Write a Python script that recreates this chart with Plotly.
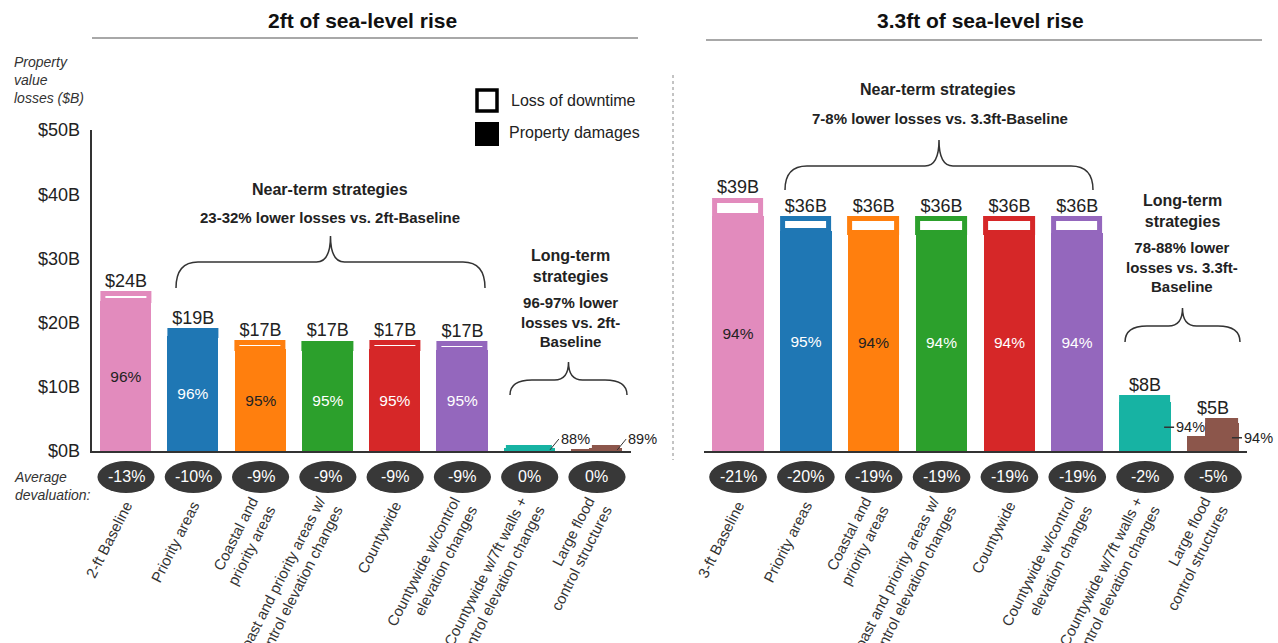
import plotly.graph_objects as go

# ---------------------------------------------------------------------------
# Data
# ---------------------------------------------------------------------------
categories_2ft = [
    "2-ft Baseline",
    "Priority areas",
    "Coastal and<br>priority areas",
    "Coast and priority areas w/<br>control elevation changes",
    "Countywide",
    "Countywide w/control<br>elevation changes",
    "Countywide w/7ft walls +<br>control elevation changes",
    "Large flood<br>control structures",
]
categories_33ft = ["3-ft Baseline"] + categories_2ft[1:]

# total property value losses ($B) per strategy
totals_2ft = [24.4, 18.7, 16.8, 16.7, 16.8, 16.6, 0.5, 0.5]
totals_33ft = [39.0, 36.1, 36.1, 36.1, 36.1, 36.1, 8.2, 4.6]

# share of the losses that are property damages (%); the rest is loss of downtime
damage_share_2ft = [96, 96, 95, 95, 95, 95, 88, 89]
damage_share_33ft = [94, 95, 94, 94, 94, 94, 94, 94]

# average devaluation (%)
devaluation_2ft = [-13, -10, -9, -9, -9, -9, 0, 0]
devaluation_33ft = [-21, -20, -19, -19, -19, -19, -2, -5]

# lower left section of the "Large flood control structures" bar ($B)
structures_low_2ft = 0.2
structures_low_33ft = 2.3

bar_colors = ["#e28bbd", "#1f77b4", "#ff7f0e", "#2ca02c",
              "#d62728", "#9467bd", "#17b3a3", "#8c564b"]
pct_text_colors = ["#222222", "#ffffff", "#222222", "#ffffff",
                   "#ffffff", "#ffffff", "#ffffff", "#ffffff"]

y_tick_vals = [0, 10, 20, 30, 40, 50]
y_tick_text = ["$0B", "$10B", "$20B", "$30B", "$40B", "$50B"]

# ---------------------------------------------------------------------------
# Layout helpers (pixel -> paper)
# ---------------------------------------------------------------------------
W, H = 1278, 643
FONT = "Liberation Sans, Arial, sans-serif"
NARROW = "Liberation Sans Narrow, Arial Narrow, Liberation Sans, sans-serif"


def px(x):
    return x / W


def py(y):
    return 1 - y / H


BAR_W = 0.76
STROKE = 5
STROKE_U = STROKE / 67.5  # stroke width in category units
N = len(categories_2ft)
STEP_W = 0.27  # width of the lower left section of the last bar

fig = go.Figure()


def add_panel(xa, ya, totals, shares, low_section, show_small_totals):
    damages = [t * s / 100 for t, s in zip(totals, shares)]
    downtime = [t - d for t, d in zip(totals, damages)]
    xs = list(range(N))

    # last bar is split: a low section on the left and the full bar on the right
    widths = [BAR_W] * (N - 1) + [BAR_W - STEP_W]
    offsets = [-BAR_W / 2] * (N - 1) + [-BAR_W / 2 + STEP_W]

    pct_text = [f"{s}%" if i < 6 else "" for i, s in enumerate(shares)]
    fig.add_trace(go.Bar(
        x=xs, y=damages, xaxis=xa, yaxis=ya,
        width=widths, offset=offsets,
        marker=dict(color=bar_colors, line=dict(width=0)),
        text=pct_text, textposition="inside", insidetextanchor="middle",
        textangle=0,
        textfont=dict(family=FONT, size=15.5, color=pct_text_colors),
        showlegend=False, hoverinfo="skip",
    ))
    fig.add_trace(go.Bar(
        x=xs, y=downtime, base=damages, xaxis=xa, yaxis=ya,
        width=[w - STROKE_U for w in widths],
        offset=[o + STROKE_U / 2 for o in offsets],
        marker=dict(color="#ffffff", line=dict(width=STROKE, color=bar_colors)),
        showlegend=False, hoverinfo="skip",
    ))
    fig.add_trace(go.Bar(
        x=[N - 1], y=[low_section], xaxis=xa, yaxis=ya,
        width=[STEP_W], offset=[-BAR_W / 2],
        marker=dict(color=bar_colors[-1], line=dict(width=0)),
        showlegend=False, hoverinfo="skip",
    ))
    labels = [f"${t:.0f}B" if (i < 6 or show_small_totals) else ""
              for i, t in enumerate(totals)]
    fig.add_trace(go.Scatter(
        x=xs, y=[t + 0.45 for t in totals], xaxis=xa, yaxis=ya,
        mode="text", text=labels, textposition="top center",
        textfont=dict(family=FONT, size=18, color="#222222"),
        cliponaxis=False, showlegend=False, hoverinfo="skip",
    ))


add_panel("x", "y", totals_2ft, damage_share_2ft, structures_low_2ft, False)
add_panel("x2", "y2", totals_33ft, damage_share_33ft, structures_low_33ft, True)

shapes = []
annotations = []

# devaluation ovals under each bar
oval_cy = 477
for xref, vals in (("x", devaluation_2ft), ("x2", devaluation_33ft)):
    for i, v in enumerate(vals):
        shapes.append(dict(
            type="circle", xref=xref, yref="paper",
            x0=i - 0.425, x1=i + 0.425,
            y0=py(oval_cy + 16), y1=py(oval_cy - 16),
            fillcolor="#383838", line=dict(width=0), layer="above",
        ))
        annotations.append(dict(
            x=i, y=py(oval_cy), xref=xref, yref="paper",
            xanchor="center", yanchor="middle",
            text=f"{v}%", showarrow=False,
            font=dict(family=NARROW, size=16, color="#ffffff"),
        ))


# curly braces
def brace(x0, x1, y_tip, y_flat, y_end):
    xm = (x0 + x1) / 2
    d = 22
    c = 14
    pts = [
        f"M {px(x0)},{py(y_end)}",
        f"Q {px(x0)},{py(y_flat)} {px(x0 + d)},{py(y_flat)}",
        f"L {px(xm - c)},{py(y_flat)}",
        f"Q {px(xm)},{py(y_flat)} {px(xm)},{py(y_tip)}",
        f"Q {px(xm)},{py(y_flat)} {px(xm + c)},{py(y_flat)}",
        f"L {px(x1 - d)},{py(y_flat)}",
        f"Q {px(x1)},{py(y_flat)} {px(x1)},{py(y_end)}",
    ]
    return dict(type="path", xref="paper", yref="paper", path=" ".join(pts),
                line=dict(color="#333333", width=1.5))


shapes += [
    brace(176, 485, 236, 262, 288),
    brace(510, 627, 362, 380, 395),
    brace(785, 1093, 140, 166, 190),
    brace(1125, 1240, 308, 326, 342),
]

# panel title rules and divider
shapes += [
    dict(type="line", xref="paper", yref="paper", x0=px(92), x1=px(638),
         y0=py(38), y1=py(38), line=dict(color="#a8a8a8", width=2)),
    dict(type="line", xref="paper", yref="paper", x0=px(706), x1=px(1262),
         y0=py(40), y1=py(40), line=dict(color="#a8a8a8", width=2)),
    dict(type="line", xref="paper", yref="paper", x0=px(673), x1=px(673),
         y0=py(75), y1=py(460), line=dict(color="#888888", width=1, dash="dot")),
]

# legend swatches
shapes += [
    dict(type="rect", xref="paper", yref="paper", x0=px(477), x1=px(497),
         y0=py(111), y1=py(90), fillcolor="#ffffff",
         line=dict(color="#000000", width=3.5)),
    dict(type="rect", xref="paper", yref="paper", x0=px(475), x1=px(499),
         y0=py(146), y1=py(122), fillcolor="#000000", line=dict(width=0)),
]


def text(x, y, s, size=14, bold=False, italic=False, anchor="center",
         color="#222222", family=FONT):
    if bold:
        s = f"<b>{s}</b>"
    if italic:
        s = f"<i>{s}</i>"
    annotations.append(dict(
        x=px(x), y=py(y), xref="paper", yref="paper", text=s,
        showarrow=False, xanchor=anchor, yanchor="middle", align=anchor,
        font=dict(family=family, size=size, color=color),
    ))


text(362, 21, "2ft of sea-level rise", size=21, bold=True, color="#111111")
text(980, 21, "3.3ft of sea-level rise", size=21, bold=True, color="#111111")

text(12, 80, "Property<br>value<br>losses ($B)", size=14, italic=True,
     anchor="left", color="#333333")
text(12, 486, "Average<br>devaluation:", size=14, italic=True,
     anchor="left", color="#333333")

text(509, 100, "Loss of downtime", size=16, anchor="left")
text(507, 133, "Property damages", size=16, anchor="left")

text(330, 189, "Near-term strategies", size=16, bold=True)
text(330, 217, "23-32% lower losses vs. 2ft-Baseline", size=15, bold=True)
text(570, 266, "Long-term<br>strategies", size=16, bold=True)
text(570, 322, "96-97% lower<br>losses vs. 2ft-<br>Baseline", size=15, bold=True)

text(938, 90, "Near-term strategies", size=16, bold=True)
text(940, 118, "7-8% lower losses vs. 3.3ft-Baseline", size=15, bold=True)
text(1182, 211, "Long-term<br>strategies", size=16, bold=True)
text(1182, 267, "78-88% lower<br>losses vs. 3.3ft-<br>Baseline", size=15, bold=True)

# leader labels for the small bars
leader_font = dict(family=FONT, size=14.5, color="#222222")
for i in (6, 7):
    annotations.append(dict(
        x=i + BAR_W / 2 - 0.08, y=totals_2ft[i] * 0.3, xref="x", yref="y",
        text=f"{damage_share_2ft[i]}%", showarrow=True, arrowhead=0,
        arrowwidth=1, arrowcolor="#333333", ax=9, ay=-11,
        xanchor="left", yanchor="middle", font=leader_font,
    ))
for i, yv in ((6, totals_33ft[6] * 0.45), (7, totals_33ft[7] * 0.45)):
    annotations.append(dict(
        x=i + BAR_W / 2 - 0.1, y=yv, xref="x2", yref="y2",
        text=f"{damage_share_33ft[i]}%", showarrow=True, arrowhead=0,
        arrowwidth=1.5, arrowcolor="#333333", ax=10, ay=0,
        xanchor="left", yanchor="middle", font=leader_font,
    ))

tick_font = dict(family=FONT, size=15, color="#333333")
xaxis_common = dict(
    range=[-0.5, 7.5], tickmode="array", tickvals=list(range(N)),
    tickangle=-63, tickfont=tick_font, ticks="", showgrid=False,
    zeroline=False, showline=True, linecolor="#333333", linewidth=2,
    ticklabelstandoff=38, automargin=False, fixedrange=True,
)
y_domain = [py(451), py(130)]

fig.update_layout(
    width=W, height=H,
    margin=dict(l=0, r=0, t=0, b=0),
    template="none",
    paper_bgcolor="#ffffff", plot_bgcolor="rgba(0,0,0,0)",
    barmode="overlay", bargap=0,
    showlegend=False,
    xaxis=dict(domain=[px(92.4), px(630.6)], anchor="y",
               ticktext=categories_2ft, **xaxis_common),
    xaxis2=dict(domain=[px(704.1), px(1246.9)], anchor="y2",
                ticktext=categories_33ft, **xaxis_common),
    yaxis=dict(domain=y_domain, range=[0, 50], anchor="x",
               tickmode="array", tickvals=y_tick_vals, ticktext=y_tick_text,
               tickfont=dict(family=FONT, size=18, color="#222222"),
               ticks="", showgrid=False, zeroline=False, showline=True,
               linecolor="#333333", linewidth=1.5, ticklabelstandoff=7,
               automargin=False, fixedrange=True),
    yaxis2=dict(domain=y_domain, range=[0, 50], anchor="x2", visible=False,
                fixedrange=True),
    shapes=shapes,
    annotations=annotations,
)

fig.write_html("out.html")
